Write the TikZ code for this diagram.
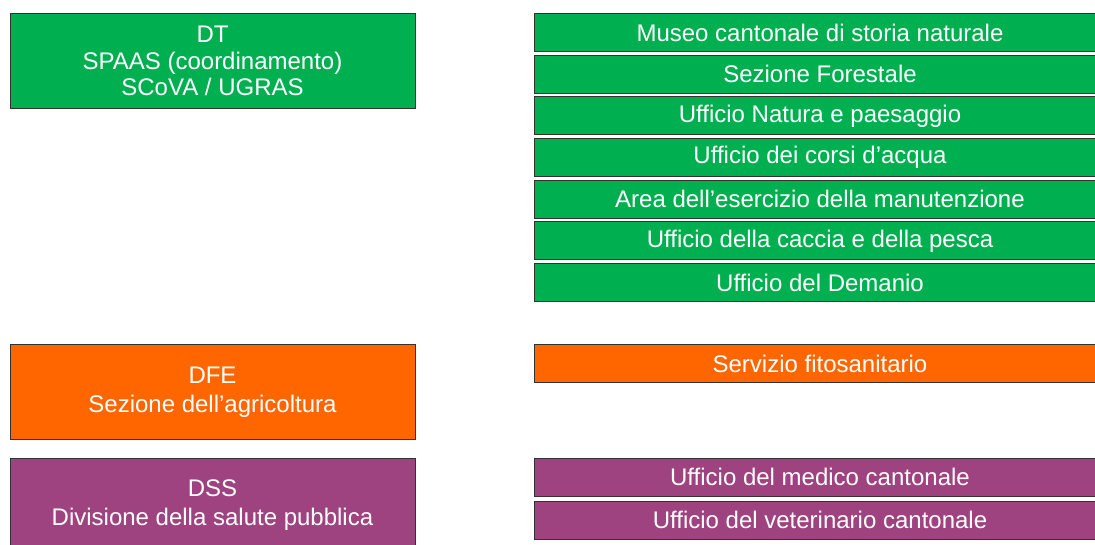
\documentclass[tikz,border=0pt]{standalone}
\usepackage{fontspec}
\setmainfont{Liberation Sans}
\definecolor{dtgreen}{RGB}{0,176,80}
\definecolor{dfeorange}{RGB}{255,102,0}
\definecolor{dsspurple}{RGB}{159,67,128}
\definecolor{edgegray}{RGB}{50,50,50}
\begin{document}
\begin{tikzpicture}[x=1pt,y=-1pt,
  base/.style={draw=edgegray, line width=0.9pt, text=white, inner sep=0pt, outer sep=0pt,
    font=\fontsize{24}{26.5}\selectfont, align=center},
  leftbox/.style={base, minimum width=405, minimum height=95},
  widelines/.style={font=\fontsize{24}{29}\selectfont},
  rightbox/.style={base, anchor=west, minimum height=38},
]
\useasboundingbox (0,0) rectangle (1095,544);
\newcommand{\rtext}[1]{\makebox[572pt][c]{#1}}
% left boxes
\node[leftbox, fill=dtgreen] (dt) at (212.5,61) {DT\\SPAAS (coordinamento)\\SCoVA / UGRAS};
\node[leftbox, widelines, fill=dfeorange] (dfe) at (212.5,392) {DFE\\Sezione dell’agricoltura};
\node[leftbox, widelines, fill=dsspurple] (dss) at (212.5,505.5) {DSS\\Divisione della salute pubblica};
% right boxes
\node[rightbox, fill=dtgreen] (r1) at (534,32.5) {\rtext{Museo cantonale di storia naturale}};
\node[rightbox, fill=dtgreen] (r2) at (534,74.2) {\rtext{Sezione Forestale}};
\node[rightbox, fill=dtgreen] (r3) at (534,115.8) {\rtext{Ufficio Natura e paesaggio}};
\node[rightbox, fill=dtgreen] (r4) at (534,157.5) {\rtext{Ufficio dei corsi d’acqua}};
\node[rightbox, fill=dtgreen] (r5) at (534,199.2) {\rtext{Area dell’esercizio della manutenzione}};
\node[rightbox, fill=dtgreen] (r6) at (534,240.8) {\rtext{Ufficio della caccia e della pesca}};
\node[rightbox, fill=dtgreen] (r7) at (534,282.5) {\rtext{Ufficio del Demanio}};
\node[rightbox, fill=dfeorange] (r8) at (534,363.5) {\rtext{Servizio fitosanitario}};
\node[rightbox, fill=dsspurple] (r9) at (534,477) {\rtext{Ufficio del medico cantonale}};
\node[rightbox, fill=dsspurple] (r10) at (534,520) {\rtext{Ufficio del veterinario cantonale}};
\end{tikzpicture}
\end{document}
